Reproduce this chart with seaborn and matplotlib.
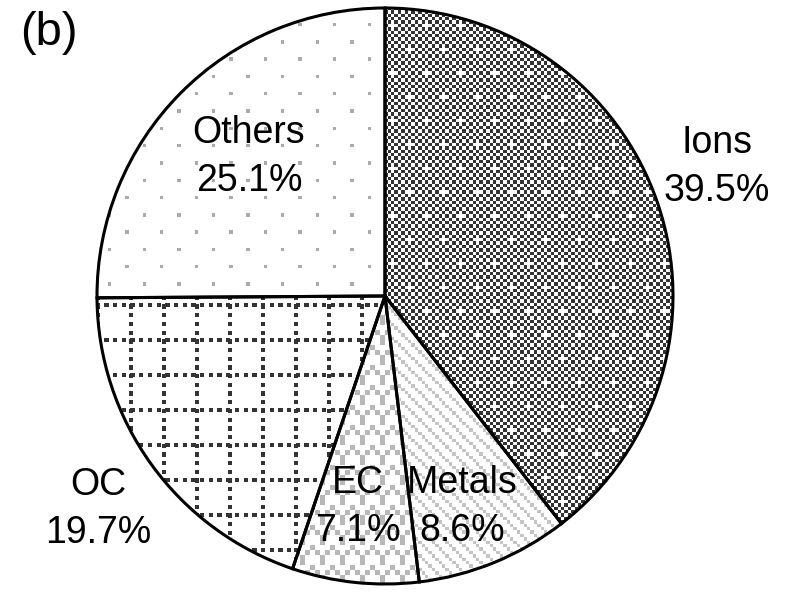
import numpy as np
import matplotlib
matplotlib.use("Agg")
import matplotlib.pyplot as plt
import seaborn as sns

# Composition shares (%), listed clockwise from 12 o'clock
categories = ["Ions", "Metals", "EC", "OC", "Others"]
shares = [39.5, 8.6, 7.1, 19.7, 25.1]
panel_tag = "(b)"

sns.set_theme(style="white")
plt.rcParams["font.family"] = ["Liberation Sans", "DejaVu Sans"]

W, H = 792, 593
fig = plt.figure(figsize=(W / 100, H / 100), dpi=100)
ax = fig.add_axes([0, 0, 1, 1])
ax.set_axis_off()

# pixel grids used to build the fill patterns
rr, cc = np.mgrid[0:H, 0:W] + 0.5


def to_rgb(mask, color):
    img = np.ones((H, W, 3))
    img[mask] = matplotlib.colors.to_rgb(color)
    return img


def pat_ions():
    s = 3.4
    i = np.floor(cc / s).astype(int)
    j = np.floor(rr / s).astype(int)
    dark = (i + j) % 2 == 0
    holes = ((i % 10 == 0) & (j % 14 == 0)) | ((i % 10 == 5) & (j % 14 == 7))
    return to_rgb(dark & ~holes, "#333333")


def pat_metals():
    s = 3.4
    i = np.floor(cc / s).astype(int)
    j = np.floor(rr / s).astype(int)
    return to_rgb((i - j) % 4 == 0, "#c4c4c4")


def pat_ec():
    s = 5.0
    tile = np.array([[1, 0, 0, 0],
                     [0, 0, 1, 0],
                     [0, 1, 0, 1],
                     [1, 0, 0, 0]], dtype=bool)
    i = np.floor(cc / s).astype(int) % 4
    j = np.floor(rr / s).astype(int) % 4
    return to_rgb(tile[j, i], "#b8b8b8")


def pat_oc():
    gy, gx = 35.0, 33.0
    hline = ((rr - 23) % gy < 3.6) & (cc % 8.7 < 4.3)
    vline = ((cc - 30) % gx < 3.6) & (rr % 8.7 < 4.3)
    return to_rgb(hline | vline, "#333333")


def pat_others():
    s = 17.3
    u = (cc - 161.7) / s
    v = (rr - 128.3) / s
    iu, iv = np.round(u), np.round(v)
    near = (np.abs(u - iu) * s < 1.7) & (np.abs(v - iv) * s < 1.7)
    parity = (iu + iv).astype(int) % 2 == 0
    return to_rgb(near & parity, "#ababab")


patterns = [pat_ions(), pat_metals(), pat_ec(), pat_oc(), pat_others()]

center = (385, H - 296)
radius = 288
wedges, _ = ax.pie(
    shares,
    startangle=90,
    counterclock=False,
    center=center,
    radius=radius,
    wedgeprops=dict(facecolor="none", edgecolor="black", linewidth=2.2),
)
for w, img in zip(wedges, patterns):
    w.set_zorder(3)
    im = ax.imshow(img, extent=(0, W, 0, H), origin="upper",
                   interpolation="nearest", zorder=1)
    im.set_clip_path(w)

# label placement (pixel coordinates, y measured from the top)
label_xy = [(717, 167), (462, 507), (358, 507), (98, 509), (249, 157)]
for name, val, (x, y) in zip(categories, shares, label_xy):
    ax.text(x, H - y, f"{name}\n{val:.1f}%", ha="center", va="center",
            fontsize=27, linespacing=1.45, color="black", zorder=5)

ax.text(49, H - 33, panel_tag, ha="center", va="center", fontsize=34,
        color="black", zorder=5)

ax.set_xlim(0, W)
ax.set_ylim(0, H)
ax.set_aspect("equal")
fig.savefig("out.png", dpi=100, facecolor="white")
